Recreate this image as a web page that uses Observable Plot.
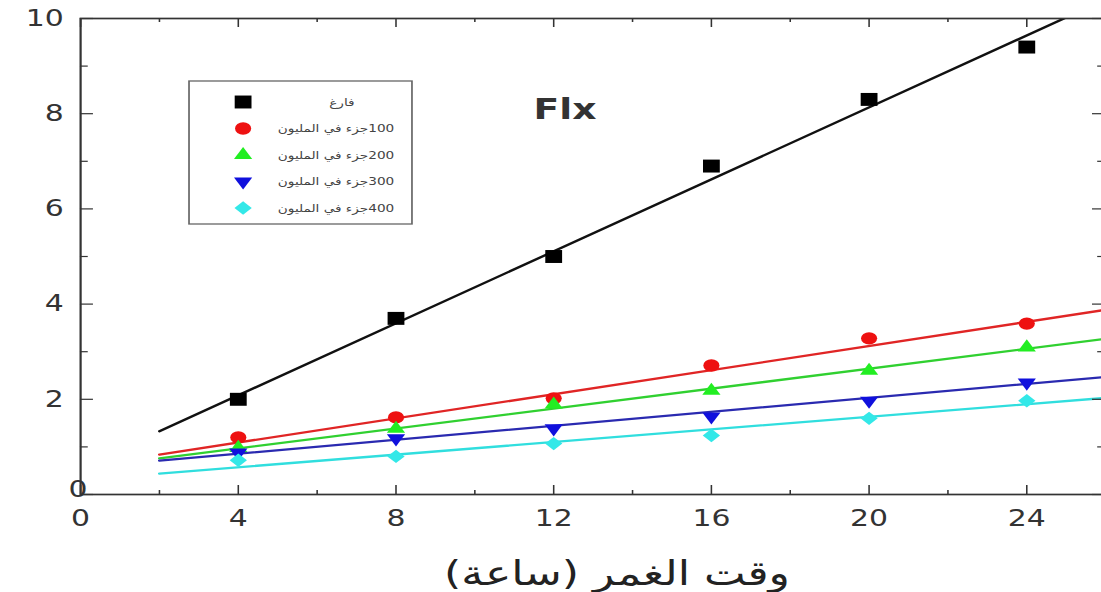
<!DOCTYPE html>
<html><head><meta charset="utf-8">
<script src="https://cdn.jsdelivr.net/npm/d3@7"></script>
<script src="https://cdn.jsdelivr.net/npm/@observablehq/plot@0.6"></script>
<style>
html,body{margin:0;padding:0;background:#fff;overflow:hidden;width:1101px;height:592px;}
#wrap{position:relative;width:1110px;height:592px;}
</style></head><body><div id="wrap"></div>
<script>
// ---- data ----
const hours = [4, 8, 12, 16, 20, 24];
const seriesNames = ["فارغ", "100جزء في المليون", "200جزء في المليون", "300جزء في المليون", "400جزء في المليون"];
const blank  = [2.0, 3.7, 5.0, 6.9, 8.3, 9.4];
const ppm100 = [1.2, 1.62, 2.02, 2.71, 3.28, 3.59];
const ppm200 = [0.98, 1.38, 1.89, 2.18, 2.6, 3.09];
const ppm300 = [0.88, 1.18, 1.39, 1.64, 1.97, 2.35];
const ppm400 = [0.72, 0.8, 1.07, 1.24, 1.6, 1.97];
// fitted straight lines: values at x = 2 and x = 26
const fitX     = [2, 26];
const fitBlank = [1.33, 10.4];
const fit100   = [0.84, 3.88];
const fit200   = [0.76, 3.27];
const fit300   = [0.71, 2.47];
const fit400   = [0.44, 2.03];
const xMajor = [0, 4, 8, 12, 16, 20, 24];
const xMinor = [2, 6, 10, 14, 18, 22, 26];
const yMajor = [0, 2, 4, 6, 8, 10];
const yMinor = [1, 3, 5, 7, 9];
const xLabel = "وقت الغمر (ساعة)";
const annotation = "Flx";

// ---- styles ----
const styles = [
  {symbol: "square",   r: 7.3, fill: "#000000", line: "#111111", rotate: 0},
  {symbol: "circle",   r: 6.2, fill: "#ee1111", line: "#e02525", rotate: 0},
  {symbol: "triangle", r: 5.2, fill: "#22ee22", line: "#30d030", rotate: 0},
  {symbol: "triangle", r: 5.2, fill: "#1010dd", line: "#2a2ab0", rotate: 180},
  {symbol: "diamond2", r: 6.0, fill: "#33e8e8", line: "#30dede", rotate: 0}
];
const valueSets = [blank, ppm100, ppm200, ppm300, ppm400];
const fitSets = [fitBlank, fit100, fit200, fit300, fit400];
const series = seriesNames.map((name, i) => ({name, values: valueSets[i], fit: fitSets[i], ...styles[i]}));

const points = series.map(s => hours.map((h, i) => ({x: h, y: s.values[i], name: s.name})));
const fits = series.map(s => fitX.map((fx, i) => ({x: fx, y: s.fit[i], name: s.name})));

// ---- layout (internal units, stretched horizontally by S) ----
const S = 1.3;
const W = 854, H = 592;
const mL = 61.5, mR = 4, mT = 18, mB = 98;
const pw = W - mL - mR, ph = H - mT - mB;
const ink = "#333333";

const svg = Plot.plot({
  width: W, height: H,
  marginLeft: mL, marginRight: mR, marginTop: mT, marginBottom: mB,
  x: {domain: [0, 26]},
  y: {domain: [0, 10]},
  style: {fontFamily: "DejaVu Sans", background: "#ffffff"},
  marks: [
    ...series.map((s, i) => Plot.line(fits[i], {x: "x", y: "y", stroke: s.line, strokeWidth: 2.3, clip: true})),
    ...series.map((s, i) => Plot.dot(points[i], {x: "x", y: "y", symbol: s.symbol, r: s.r, fill: s.fill, stroke: "none", rotate: s.rotate})),
    Plot.frame({stroke: ink, strokeWidth: 1.7}),
    Plot.tickX(xMajor, {x: d => d, insetTop: ph - 9, stroke: ink, strokeWidth: 1.2}),
    Plot.tickX(xMinor, {x: d => d, insetTop: ph - 4, stroke: ink, strokeWidth: 1.2}),
    Plot.tickX(xMajor, {x: d => d, insetBottom: ph - 9, stroke: ink, strokeWidth: 1.2}),
    Plot.tickX(xMinor, {x: d => d, insetBottom: ph - 4, stroke: ink, strokeWidth: 1.2}),
    Plot.tickY(yMajor, {y: d => d, insetRight: pw - 10, stroke: ink, strokeWidth: 1.2}),
    Plot.tickY(yMinor, {y: d => d, insetRight: pw - 6, stroke: ink, strokeWidth: 1.2}),
    Plot.tickY(yMajor, {y: d => d, insetLeft: pw - 10, stroke: ink, strokeWidth: 1.2}),
    Plot.tickY(yMinor, {y: d => d, insetLeft: pw - 6, stroke: ink, strokeWidth: 1.2}),
    Plot.axisX({ticks: xMajor, tickSize: 0, tickPadding: 15, fontSize: 23, color: ink, label: null, tickFormat: d => String(d)}),
    Plot.axisY({ticks: yMajor.filter(v => v > 0), tickSize: 0, tickPadding: 13, fontSize: 23, color: ink, label: null, tickFormat: d => String(d)}),
    Plot.axisY({ticks: [0], tickSize: 0, tickPadding: 2, dy: -5, textAnchor: "middle", fontSize: 23, color: ink, label: null, tickFormat: d => String(d)})
  ]
});

svg.setAttribute("preserveAspectRatio", "none");
svg.setAttribute("width", W * S);
svg.style.width = (W * S) + "px";
svg.style.height = H + "px";
svg.style.maxWidth = "none";
document.getElementById("wrap").appendChild(svg);

// ---- overlay: legend, annotation, axis title ----
const g = d3.select(svg).append("g").attr("font-family", "DejaVu Sans");
g.append("rect").attr("x", 145.4).attr("y", 81).attr("width", 171.5).attr("height", 143)
  .attr("fill", "#ffffff").attr("stroke", "#666666").attr("stroke-width", 1.3);
const symMap = {square: d3.symbolSquare, circle: d3.symbolCircle, triangle: d3.symbolTriangle, diamond2: d3.symbolDiamond2};
series.forEach((s, i) => {
  const cy = 102 + i * 26.5;
  g.append("path")
    .attr("d", d3.symbol(symMap[s.symbol], Math.PI * s.r * s.r)())
    .attr("transform", `translate(187,${cy}) rotate(${s.rotate})`)
    .attr("fill", s.fill);
  g.append("text")
    .attr("x", i === 0 ? 263 : 258.5).attr("y", cy).attr("dy", "0.35em")
    .attr("text-anchor", "middle").attr("direction", "rtl")
    .attr("font-size", 10.5).attr("fill", "#444444")
    .text(s.name);
});
g.append("text").attr("x", 434.6).attr("y", 119).attr("text-anchor", "middle")
  .attr("font-size", 29).attr("font-weight", "bold").attr("fill", ink).text(annotation);
g.append("text").attr("x", 474.6).attr("y", 585).attr("text-anchor", "middle").attr("direction", "rtl")
  .attr("font-size", 34).attr("fill", "#222222").text(xLabel);
</script></body></html>
